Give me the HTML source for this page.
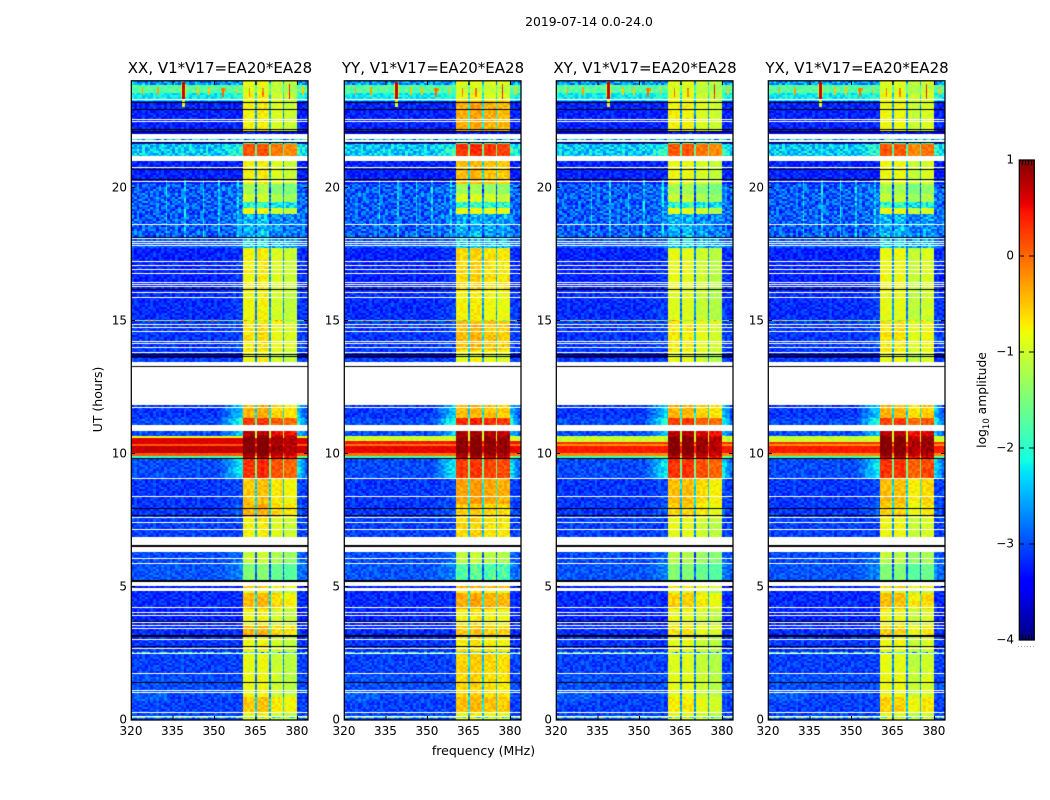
<!DOCTYPE html>
<html>
<head>
<meta charset="utf-8">
<title>2019-07-14 0.0-24.0</title>
<style>
html,body{margin:0;padding:0;background:#fff}
#figure{position:relative;width:1050px;height:800px;background:#fff;overflow:hidden}
canvas{position:absolute;display:block}
svg{position:absolute;left:0;top:0}
text{font-family:"DejaVu Sans","Liberation Sans",sans-serif;fill:#000}
</style>
</head>
<body>
<div id="figure">
<canvas id="hm0" width="177" height="639" style="left:131px;top:81px"></canvas>
<canvas id="hm1" width="177" height="639" style="left:344px;top:81px"></canvas>
<canvas id="hm2" width="177" height="639" style="left:556px;top:81px"></canvas>
<canvas id="hm3" width="177" height="639" style="left:768px;top:81px"></canvas>
<canvas id="cb" width="15" height="480" style="left:1019px;top:160px"></canvas>
<svg id="overlay" width="1050" height="800">
  <text x="589" y="26" text-anchor="middle" font-size="12.4">2019-07-14 0.0-24.0</text>
  <text x="483.5" y="755" text-anchor="middle" font-size="12.5">frequency (MHz)</text>
  <text transform="translate(102,399.5) rotate(-90)" text-anchor="middle" font-size="12.5">UT (hours)</text>
  <text transform="translate(986,400) rotate(-90)" text-anchor="middle" font-size="12.3">log<tspan font-size="8.5" dy="3">10</tspan><tspan dy="-3"> amplitude</tspan></text>
</svg>
</div>
<script>
/* ---------- chart data ---------- */
const panelTitles = ["XX, V1*V17=EA20*EA28","YY, V1*V17=EA20*EA28","XY, V1*V17=EA20*EA28","YX, V1*V17=EA20*EA28"];
const xTicks = [320,335,350,365,380];
const yTicks = [0,5,10,15,20];
const colorTicks = [1,0,-1,-2,-3,-4];

/* time segments: start sample (640 samples = 24 h) and log10 amplitude levels */
const segmentStart = [0,8,24,46,70,85,95,112,128,130,133,135,140,158,169,183,204,217,242,262,265,268,275,277,283,285,290,296,303,317,359,363,367,371,400,430,473,482,507,513,519,527,537,560,565,577,580,587,590,620,628,636];
const backgroundLevel = [-3.05,-3.05,-3.0,-3.05,-3.1,-3.15,-3.2,-3.15,-3.2,null,-3.2,null,-2.95,-3.0,null,-3.05,-3.1,-3.1,-3.0,-1.9,0.1,0.7,0.1,0.6,-0.8,-3.0,null,-3.0,-3.1,null,-3.05,-3.6,-3.1,-3.1,-3.15,-3.2,-2.95,-2.9,-2.9,-2.9,-2.9,-2.9,-3.2,null,-2.35,-3.3,null,-3.6,-3.2,-2.2,-1.7,-2.6];
const shoulderLevel = [-3.05,-3.05,-3.0,-3.05,-3.1,-3.15,-3.2,-3.15,-3.2,null,-3.2,null,-2.7,-2.8,null,-3.05,-2.9,-3.0,-2.1,-1.5,0.1,0.7,0.1,0.6,-0.8,-2.3,null,-1.9,-2.3,null,-3.05,-3.6,-3.1,-3.0,-3.05,-3.1,-2.8,-2.75,-2.75,-2.75,-2.75,-2.75,-3.2,null,-1.9,-3.3,null,-3.6,-3.2,-2.0,-1.7,-2.6];
const sourceXX = [-0.85,-0.55,-0.9,-0.9,-0.85,-0.45,-0.85,-0.5,-1.0,null,-0.6,null,-1.5,-1.1,null,-0.8,-0.45,-0.55,0.25,0.7,0.9,1.0,0.95,1.0,0.9,0.7,null,0.2,-0.45,null,-0.85,-1.0,-0.8,-0.7,-0.85,-0.8,-2.3,-2.5,-0.85,-2.0,-1.05,-1.3,-0.8,null,0.05,-1.8,null,-3.3,-0.8,-0.85,-1.0,-0.9];
const sourceYY = [-0.8,-0.45,-0.6,-0.55,-0.7,-0.5,-0.75,-0.35,-0.8,null,-0.4,null,-1.7,-1.1,null,-0.6,-0.55,-0.3,0.25,0.75,0.9,1.0,0.95,1.0,0.9,0.8,null,0.35,-0.45,null,-0.8,-1.0,-0.7,-0.45,-0.75,-0.6,-2.3,-2.5,-0.8,-1.9,-0.95,-1.3,-0.45,null,0.3,-1.8,null,-3.3,-0.35,-0.85,-1.0,-0.85];
const sourceXY = [-0.9,-0.75,-0.9,-0.95,-0.9,-0.7,-0.9,-0.6,-1.0,null,-0.7,null,-1.5,-1.2,null,-0.9,-0.6,-0.5,0.25,0.7,0.9,1.0,0.95,1.0,0.9,0.7,null,0.2,-0.45,null,-0.9,-1.0,-0.85,-0.75,-0.95,-0.9,-2.3,-2.5,-0.9,-2.0,-1.1,-1.3,-0.85,null,0.05,-1.8,null,-3.3,-0.8,-0.9,-1.0,-0.9];
const sourceYX = [-0.9,-0.6,-0.85,-0.9,-0.85,-0.6,-0.85,-0.5,-1.0,null,-0.6,null,-1.5,-1.15,null,-0.85,-0.6,-0.5,0.25,0.7,0.9,1.0,0.95,1.0,0.9,0.7,null,0.2,-0.45,null,-0.85,-1.0,-0.8,-0.7,-0.9,-0.85,-2.3,-2.5,-0.85,-2.0,-1.1,-1.3,-0.85,null,0.05,-1.8,null,-3.3,-0.85,-0.85,-1.0,-0.9];
const sourceLevels = [sourceXX,sourceYY,sourceXY,sourceYX];

/* spectral windows in MHz, with per-panel brightness of each window */
const windowLow = [360.5,365.5,370.5,375.5];
const windowHigh = [365.0,370.0,375.0,380.0];
const windowGainXX = [0.05,0.1,-0.12,-0.22];
const windowGainYY = [0.0,0.05,-0.03,-0.08];
const windowGainXY = [0.05,0.05,-0.1,-0.22];
const windowGainYX = [0.05,0.05,-0.2,-0.08];
const windowGains = [windowGainXX,windowGainYY,windowGainXY,windowGainYX];
const rfiBackgroundShift = [0,-0.15,-0.28,-0.28];
const rfiTopCut = [0,3,4,4];

/* flagged and bad time samples */
const whiteSamples = [4,8,28,30,47,67,72,81,92,95,98,105,108,113,157,162,183,191,198,203,224,242,313,316,368,373,377,379,389,393,396,423,428,434,436,438,447,451,455,459,475,477,479,482,496,539,553,579,599,601,621];
const blackSamples = [38,74,84,85,99,140,139,174,175,205,212,262,354,364,366,431,483,541,551,578,589,591,611,618];

/* isolated bright rows: sample and level */
const hotSamples = [3,68,400,581];
const hotLevels = [-1.6,-2.1,-1.0,-2.3];

/* narrow-band interference: centre MHz, width MHz, first sample, last sample, level */
const rfiFreq = [324.3,329.8,339.0,339.0,339.0,344.2,348.2,353.3,353.3,358.3,362.7,367.7,377.1,382.2,332.9,339.5,346.4,351.9,358.6,326,331];
const rfiWidth = [0.5,0.5,0.7,2.4,0.5,0.5,0.5,2.0,0.5,0.5,0.5,0.5,0.7,0.5,0.5,0.5,0.5,0.5,0.5,14,18];
const rfiFirst = [626,626,621,624,614,626,626,630,624,626,624,624,622,626,482,482,482,482,482,20,36];
const rfiLast = [633,633,638,636,620,633,633,632,632,633,632,632,636,633,540,540,540,540,540,30,44];
const rfiLevel = [-0.3,-0.3,0.7,-0.9,-0.9,-0.5,-0.5,-0.2,0.0,-0.5,-0.1,-0.1,0.4,-0.5,-2.35,-2.35,-2.35,-2.35,-2.35,-2.9,-2.95];

/* hand-entered grain tile (digits 0-9) */
const grainTile = [
"30714261853072946138502",
"62958031476205183947260",
"14370692581437206958314",
"87025419360862541703926",
"35186740291573680241758",
"92460137585029147360816",
"07318926441685073925142",
"51694082373920658147063",
"28037541696314280975421",
"74162908350749316082637",
"40859316272186549370185"
];

/* ---------- axis functions ---------- */
const panelLeft = [131,344,556,768];
const plotTop = 81, plotBottom = 720, plotWidth = 177;
const samplesPerHour = 640/24;
const xScale = mhz => (mhz-320)*(plotWidth/64);
const yScaleSample = s => plotBottom - s*((plotBottom-plotTop)/640);
const yScaleHour = h => yScaleSample(h*samplesPerHour);
const colorT = v => Math.max(0,Math.min(1,(v+4)/5));

function jet(t){
  const pw = (pts)=>{for(let i=1;i<pts.length;i++){if(t<=pts[i][0]){const a=pts[i-1],b=pts[i];return a[1]+(b[1]-a[1])*(t-a[0])/(b[0]-a[0]);}}return pts[pts.length-1][1];};
  const r=pw([[0,0],[0.35,0],[0.66,1],[0.89,1],[1,0.5]]);
  const g=pw([[0,0],[0.125,0],[0.375,1],[0.64,1],[0.91,0],[1,0]]);
  const b=pw([[0,0.5],[0.11,1],[0.34,1],[0.65,0],[1,0]]);
  return "rgb("+Math.round(r*255)+","+Math.round(g*255)+","+Math.round(b*255)+")";
}
function segmentOf(s){let k=0;while(k+1<segmentStart.length&&segmentStart[k+1]<=s)k++;return k;}
function grain(panel,s,c){
  const rr=Math.floor(s/2)+panel*3, cc=Math.floor(c/2)+panel*5;
  const row=rr%grainTile.length;
  const col=(cc+7*Math.floor(rr/grainTile.length))%grainTile[0].length;
  return (Number(grainTile[row][col])-4.5)/4.5;
}
function rfiAt(v,s,mhz){
  for(let i=0;i<rfiFreq.length;i++) if(s>=rfiFirst[i]&&s<=rfiLast[i]&&Math.abs(mhz-rfiFreq[i])<=rfiWidth[i]/2) v=Math.max(v,rfiLevel[i]);
  return v;
}
function cellLevel(panel,s,c,mhz){
  const k=segmentOf(s);
  let bg=backgroundLevel[k];
  const hot=hotSamples.indexOf(s);
  if(hot>=0) return hotLevels[hot]+grain(panel,s,c)*0.9;
  if(bg===null) return null;
  if(bg>-1) bg+=rfiBackgroundShift[panel];
  if(s<283&&s>=283-rfiTopCut[panel]) bg=-1.0;
  const sh=bg>-1?bg:(s<283&&s>=283-rfiTopCut[panel]?-1.0:shoulderLevel[k]), src=sourceLevels[panel][k];
  let v=bg;
  if(mhz<windowLow[0]){
    if(mhz>352) v=bg+(sh-bg)*(mhz-352)/8.5;
  }else if(mhz>=windowHigh[3]){
    if(mhz<384) v=sh+(bg-sh)*(mhz-380)/4;
  }else{
    let inWin=-1;
    for(let i=0;i<4;i++) if(mhz>=windowLow[i]&&mhz<windowHigh[i]) inWin=i;
    v = inWin>=0 ? src+windowGains[panel][inWin] : Math.max(bg,src-1.8);
    if(inWin>=0){
      v=rfiAt(v,s,mhz);
      return v+grain(panel,s,c)*(src<-1.6?0.4:0.16);
    }
  }
  v=rfiAt(v,s,mhz);
  const amp = v>-1 ? 0.06 : (bg>-2.95&&bg<-2.2 ? 0.42 : 0.24);
  return v+grain(panel,s,c)*amp;
}

/* ---------- heatmaps ---------- */
panelLeft.forEach(function(left,panel){
  const ctx=document.getElementById("hm"+panel).getContext("2d");
  for(let s=1;s<640;s++){
    const y0=720-s-plotTop;
    if(blackSamples.indexOf(s)>=0){ctx.fillStyle="#000";ctx.fillRect(0,y0,plotWidth,1);continue;}
    if(whiteSamples.indexOf(s)>=0) continue;
    for(let c=0;c<128;c++){
      const mhz=320+c*0.5+0.25;
      const v=cellLevel(panel,s,c,mhz);
      if(v===null) continue;
      const x0=Math.round(xScale(320+c*0.5)), x1=Math.round(xScale(320+(c+1)*0.5));
      ctx.fillStyle=jet(colorT(v));
      ctx.fillRect(x0,y0,x1-x0,1);
    }
  }
});

/* ---------- colorbar gradient ---------- */
(function(){
  const ctx=document.getElementById("cb").getContext("2d");
  for(let y=0;y<480;y++){ctx.fillStyle=jet(1-(y+0.5)/480);ctx.fillRect(0,y,15,1);}
})();

/* ---------- axes overlay ---------- */
const NS="http://www.w3.org/2000/svg";
const svg=document.getElementById("overlay");
function mk(tag,attrs,parent){const e=document.createElementNS(NS,tag);for(const a in attrs)e.setAttribute(a,attrs[a]);(parent||svg).appendChild(e);return e;}
panelLeft.forEach(function(left,panel){
  const g=mk("g",{});
  
  
  const frame=mk("rect",{x:left+0.3,y:plotTop-0.2,width:plotWidth-0.3,height:plotBottom-plotTop+0.2,fill:"none",stroke:"#000","stroke-width":1.25},g);
  
  
  const title=mk("text",{x:left+plotWidth/2+0.5,y:73,"text-anchor":"middle","font-size":15},g);
  title.textContent=panelTitles[panel];
  
  
  xTicks.forEach(function(t){
    const x=left+xScale(t)+0.5;
    const tb=mk("line",{x1:x,x2:x,y1:plotBottom,y2:plotBottom-4,stroke:"#000"},g);
    
    
    const tt=mk("line",{x1:x,x2:x,y1:plotTop,y2:plotTop+4,stroke:"#000"},g);
    
    
    const lab=mk("text",{x:x-0.5,y:735,"text-anchor":"middle","font-size":12},g);
    lab.textContent=t;
    
    
  });
  yTicks.forEach(function(h){
    const y=Math.round(yScaleHour(h))-0.5;
    const tl=mk("line",{x1:left,x2:left+4,y1:y,y2:y,stroke:"#000"},g);
    
    
    const tr=mk("line",{x1:left+plotWidth,x2:left+plotWidth-4,y1:y,y2:y,stroke:"#000"},g);
    
    
    const lab=mk("text",{x:left-4,y:y+3.8,"text-anchor":"end","font-size":12},g);
    lab.textContent=h;
    
    
  });
});
/* colorbar frame, ticks */
const cbg=mk("g",{});


const cbFrame=mk("rect",{x:1019.3,y:160,width:15,height:480,fill:"none",stroke:"#000","stroke-width":1.25},cbg);


const cbScale=v=>640-(v+4)*96;
colorTicks.forEach(function(v){
  const y=Math.round(cbScale(v));
  if(v>-4&&v<1){
    const a=mk("line",{x1:1019,x2:1024,y1:y,y2:y,stroke:"#000"},cbg);
    
    
    const b=mk("line",{x1:1029,x2:1034,y1:y,y2:y,stroke:"#000"},cbg);
    
    
  }
  const l=mk("text",{x:1014,y:y+3.5,"text-anchor":"end","font-size":12},cbg);
  l.textContent=(v<0?"\u2212":"")+Math.abs(v);
  
  
});
[1022,1025,1028,1031].forEach(function(x){
  const a=mk("line",{x1:x+0.5,x2:x+0.5,y1:160,y2:165,stroke:"#000"},cbg);
  
  
  const b=mk("line",{x1:x+0.5,x2:x+0.5,y1:635,y2:640,stroke:"#000"},cbg);
  
  
});
[1018,1021,1024,1027,1030,1033].forEach(function(x){
  const d=mk("rect",{x:x,y:646,width:1,height:1,fill:"#aaa"},cbg);
  
  
});
</script>
</body>
</html>
